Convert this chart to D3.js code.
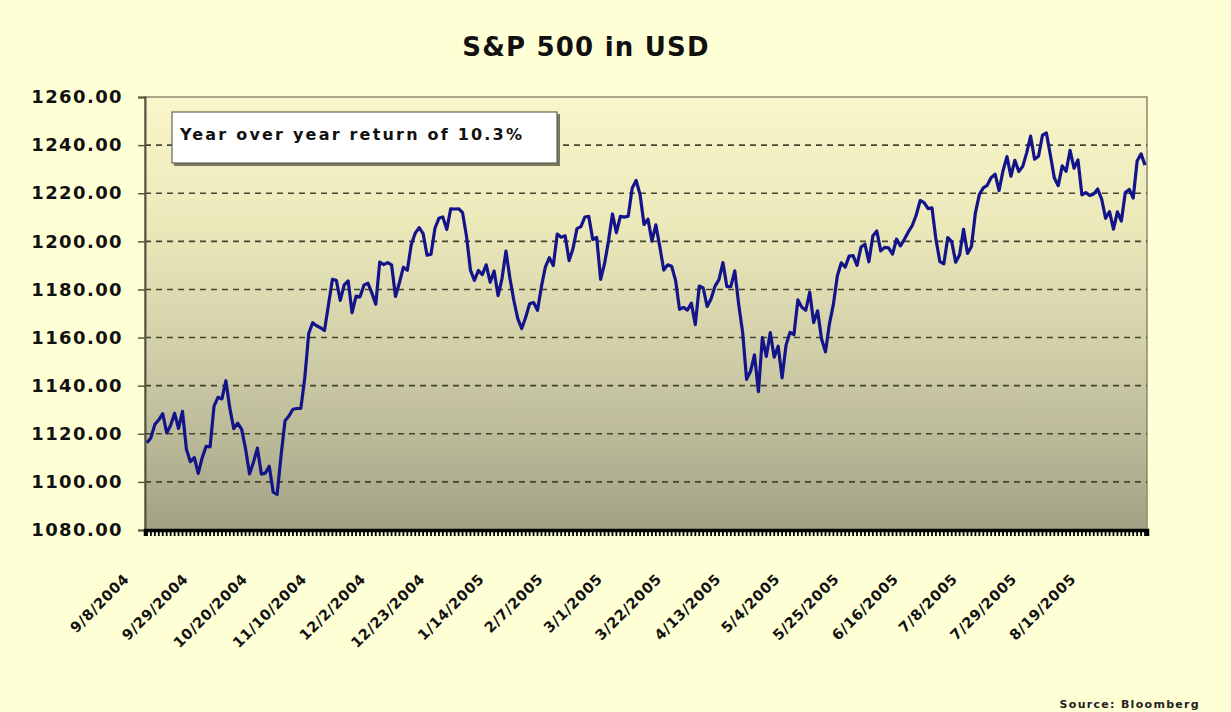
<!DOCTYPE html>
<html><head><meta charset="utf-8">
<script src="https://cdn.jsdelivr.net/npm/d3@7"></script>
<style>html,body{margin:0;padding:0;background:#FFFFD6;} svg{display:block}</style>
</head><body><svg id="c" width="1231" height="712"></svg>
<script>
const dates = [
"9/8/2004","9/9/2004","9/10/2004","9/13/2004","9/14/2004","9/15/2004","9/16/2004","9/17/2004","9/20/2004","9/21/2004",
"9/22/2004","9/23/2004","9/24/2004","9/27/2004","9/28/2004","9/29/2004","9/30/2004","10/1/2004","10/4/2004","10/5/2004",
"10/6/2004","10/7/2004","10/8/2004","10/11/2004","10/12/2004","10/13/2004","10/14/2004","10/15/2004","10/18/2004","10/19/2004",
"10/20/2004","10/21/2004","10/22/2004","10/25/2004","10/26/2004","10/27/2004","10/28/2004","10/29/2004","11/1/2004","11/2/2004",
"11/3/2004","11/4/2004","11/5/2004","11/8/2004","11/9/2004","11/10/2004","11/11/2004","11/12/2004","11/15/2004","11/16/2004",
"11/17/2004","11/18/2004","11/19/2004","11/22/2004","11/23/2004","11/24/2004","11/26/2004","11/29/2004","11/30/2004","12/1/2004",
"12/2/2004","12/3/2004","12/6/2004","12/7/2004","12/8/2004","12/9/2004","12/10/2004","12/13/2004","12/14/2004","12/15/2004",
"12/16/2004","12/17/2004","12/20/2004","12/21/2004","12/22/2004","12/23/2004","12/27/2004","12/28/2004","12/29/2004","12/30/2004",
"12/31/2004","1/3/2005","1/4/2005","1/5/2005","1/6/2005","1/7/2005","1/10/2005","1/11/2005","1/12/2005","1/13/2005",
"1/14/2005","1/18/2005","1/19/2005","1/20/2005","1/21/2005","1/24/2005","1/25/2005","1/26/2005","1/27/2005","1/28/2005",
"1/31/2005","2/1/2005","2/2/2005","2/3/2005","2/4/2005","2/7/2005","2/8/2005","2/9/2005","2/10/2005","2/11/2005",
"2/14/2005","2/15/2005","2/16/2005","2/17/2005","2/18/2005","2/22/2005","2/23/2005","2/24/2005","2/25/2005","2/28/2005",
"3/1/2005","3/2/2005","3/3/2005","3/4/2005","3/7/2005","3/8/2005","3/9/2005","3/10/2005","3/11/2005","3/14/2005",
"3/15/2005","3/16/2005","3/17/2005","3/18/2005","3/21/2005","3/22/2005","3/23/2005","3/24/2005","3/28/2005","3/29/2005",
"3/30/2005","3/31/2005","4/1/2005","4/4/2005","4/5/2005","4/6/2005","4/7/2005","4/8/2005","4/11/2005","4/12/2005",
"4/13/2005","4/14/2005","4/15/2005","4/18/2005","4/19/2005","4/20/2005","4/21/2005","4/22/2005","4/25/2005","4/26/2005",
"4/27/2005","4/28/2005","4/29/2005","5/2/2005","5/3/2005","5/4/2005","5/5/2005","5/6/2005","5/9/2005","5/10/2005",
"5/11/2005","5/12/2005","5/13/2005","5/16/2005","5/17/2005","5/18/2005","5/19/2005","5/20/2005","5/23/2005","5/24/2005",
"5/25/2005","5/26/2005","5/27/2005","5/31/2005","6/1/2005","6/2/2005","6/3/2005","6/6/2005","6/7/2005","6/8/2005",
"6/9/2005","6/10/2005","6/13/2005","6/14/2005","6/15/2005","6/16/2005","6/17/2005","6/20/2005","6/21/2005","6/22/2005",
"6/23/2005","6/24/2005","6/27/2005","6/28/2005","6/29/2005","6/30/2005","7/1/2005","7/5/2005","7/6/2005","7/7/2005",
"7/8/2005","7/11/2005","7/12/2005","7/13/2005","7/14/2005","7/15/2005","7/18/2005","7/19/2005","7/20/2005","7/21/2005",
"7/22/2005","7/25/2005","7/26/2005","7/27/2005","7/28/2005","7/29/2005","8/1/2005","8/2/2005","8/3/2005","8/4/2005",
"8/5/2005","8/8/2005","8/9/2005","8/10/2005","8/11/2005","8/12/2005","8/15/2005","8/16/2005","8/17/2005","8/18/2005",
"8/19/2005","8/22/2005","8/23/2005","8/24/2005","8/25/2005","8/26/2005","8/29/2005","8/30/2005","8/31/2005","9/1/2005",
"9/2/2005","9/6/2005","9/7/2005","9/8/2005"
];
const values = [
1116.27,1118.38,1123.92,1125.82,1128.33,1120.37,1123.50,1128.55,1122.20,1129.30,
1113.56,1108.36,1110.11,1103.52,1110.06,1114.80,1114.58,1131.50,1135.17,1134.48,
1142.05,1130.65,1122.14,1124.39,1121.84,1113.65,1103.29,1108.20,1114.02,1103.23,
1103.66,1106.49,1095.74,1094.80,1111.09,1125.40,1127.44,1130.20,1130.51,1130.56,
1143.20,1161.67,1166.17,1164.89,1164.08,1162.91,1173.48,1184.17,1183.81,1175.43,
1181.94,1183.55,1170.34,1177.24,1176.94,1181.76,1182.65,1178.57,1173.82,1191.37,
1190.33,1191.17,1190.25,1177.07,1182.81,1189.24,1188.00,1198.68,1203.38,1205.72,
1203.21,1194.20,1194.65,1205.45,1209.57,1210.13,1204.92,1213.54,1213.45,1213.55,
1211.92,1202.08,1188.05,1183.74,1187.89,1186.19,1190.25,1182.99,1187.70,1177.45,
1184.52,1195.98,1184.63,1175.41,1167.87,1163.75,1168.41,1174.07,1174.55,1171.36,
1181.27,1189.41,1193.19,1189.89,1203.03,1201.72,1202.30,1191.99,1197.01,1205.30,
1206.14,1210.12,1210.34,1200.75,1201.59,1184.16,1190.80,1200.20,1211.37,1203.60,
1210.41,1210.08,1210.47,1222.12,1225.31,1219.43,1207.01,1209.25,1200.08,1206.83,
1197.75,1188.07,1190.21,1189.65,1183.78,1171.71,1172.53,1171.42,1174.28,1165.36,
1181.41,1180.59,1172.92,1176.12,1181.39,1184.07,1191.14,1181.20,1181.21,1187.76,
1173.79,1162.05,1142.62,1145.98,1152.78,1137.50,1159.95,1152.12,1162.10,1151.83,
1156.38,1143.22,1156.85,1162.16,1161.17,1175.65,1172.63,1171.35,1178.84,1166.22,
1171.11,1159.36,1154.05,1165.69,1173.80,1185.56,1191.08,1189.28,1193.86,1194.07,
1190.01,1197.62,1198.78,1191.50,1202.22,1204.29,1196.02,1197.51,1197.26,1194.67,
1200.93,1198.11,1200.82,1203.91,1206.58,1210.96,1216.96,1216.10,1213.61,1213.88,
1200.73,1191.57,1190.69,1201.57,1199.85,1191.33,1194.44,1204.99,1194.94,1197.87,
1211.86,1219.44,1222.21,1223.29,1226.50,1227.92,1221.13,1229.35,1235.20,1227.04,
1233.68,1229.03,1231.16,1236.79,1243.72,1234.18,1235.35,1244.12,1245.04,1235.86,
1226.42,1223.13,1231.38,1229.13,1237.81,1230.39,1233.87,1219.34,1220.24,1219.02,
1219.71,1221.73,1217.59,1209.59,1212.37,1205.10,1212.28,1208.41,1220.33,1221.59,
1218.02,1233.39,1236.36,1231.67
];
const yTicks = [1080,1100,1120,1140,1160,1180,1200,1220,1240,1260];
const xTickLabels = ["9/8/2004","9/29/2004","10/20/2004","11/10/2004","12/2/2004","12/23/2004","1/14/2005","2/7/2005","3/1/2005","3/22/2005","4/13/2005","5/4/2005","5/25/2005","6/16/2005","7/8/2005","7/29/2005","8/19/2005"];
const titleText = "S&P 500 in USD";
const noteText = "Year over year return of 10.3%";
const sourceText = "Source: Bloomberg";

const W = 1231, H = 712;
const m = {left:145, right:1147, top:97, bottom:530};
const FONT = "'DejaVu Sans', Verdana, sans-serif";
const svg = d3.select("#c");
svg.append("rect").attr("width", W).attr("height", H).attr("fill", "#FFFFD6");

const defs = svg.append("defs");
const grad = defs.append("linearGradient").attr("id","pg").attr("x1",0).attr("y1",0).attr("x2",0).attr("y2",1);
[[0,"#F8F6CA"],[0.3,"#EBE8BA"],[0.6,"#D0CEA8"],[1,"#A2A185"]].forEach(s =>
  grad.append("stop").attr("offset", s[0]).attr("stop-color", s[1]));

const x = d3.scaleBand().domain(dates).range([m.left, m.right]).padding(0);
const y = d3.scaleLinear().domain([1080, 1260]).range([m.bottom, m.top]);
const cx = d => x(d) + x.bandwidth()/2;

// plot area
svg.append("rect").attr("x", m.left).attr("y", m.top)
  .attr("width", m.right - m.left).attr("height", m.bottom - m.top)
  .attr("fill", "url(#pg)").attr("stroke", "#8C8A6E").attr("stroke-width", 1.5);

// gridlines
svg.append("g").selectAll("line").data(yTicks.filter(t => t > 1080 && t < 1260)).join("line")
  .attr("x1", m.left).attr("x2", m.right)
  .attr("y1", d => y(d)).attr("y2", d => y(d))
  .attr("stroke", "#45442F").attr("stroke-width", 1.6).attr("stroke-dasharray", "6,5");

// y axis
const yAxis = svg.append("g").attr("transform", `translate(${m.left},0)`)
  .call(d3.axisLeft(y).tickValues(yTicks).tickSize(7).tickPadding(15).tickFormat(d => d.toFixed(2)));
yAxis.select(".domain").attr("stroke", "#55543C").attr("stroke-width", 2);
yAxis.selectAll(".tick line").attr("stroke", "#55543C").attr("stroke-width", 1.5);
yAxis.selectAll("text").attr("font-family", FONT).attr("font-weight", "bold")
  .attr("font-size", 18).attr("letter-spacing", 1.4).attr("fill", "#111");

// x axis (dense category ticks)
const xAxis = svg.append("g").attr("transform", `translate(0,${m.bottom})`)
  .call(d3.axisBottom(x).tickSize(6).tickFormat(""));
xAxis.select(".domain").attr("stroke", "#000").attr("stroke-width", 3.5);
xAxis.selectAll(".tick line").attr("stroke", "#000").attr("stroke-width", 1.8);

// x labels
svg.append("g").selectAll("text").data(xTickLabels).join("text")
  .attr("transform", d => `translate(${cx(d) - 17},${580}) rotate(-45)`)
  .attr("text-anchor", "end")
  .attr("font-family", FONT).attr("font-weight", "bold").attr("font-size", 14.5)
  .attr("letter-spacing", 0.6).attr("fill", "#111")
  .text(d => d);

// line
const line = d3.line().x((d, i) => cx(dates[i])).y(d => y(d));
svg.append("path").datum(values).attr("d", line)
  .attr("fill", "none").attr("stroke", "#14148A").attr("stroke-width", 3.2)
  .attr("stroke-linejoin", "round");

// annotation box
svg.append("rect").attr("x", 174).attr("y", 114).attr("width", 386).attr("height", 52)
  .attr("fill", "#7A7862");
svg.append("rect").attr("x", 172).attr("y", 112).attr("width", 385).attr("height", 51)
  .attr("fill", "#FFFFFF").attr("stroke", "#66654F").attr("stroke-width", 1.2);
svg.append("text").attr("x", 180).attr("y", 140)
  .attr("font-family", FONT).attr("font-weight", "bold").attr("font-size", 16)
  .attr("letter-spacing", 2.2).attr("fill", "#111").text(noteText);

// title
svg.append("text").attr("x", 586).attr("y", 56).attr("text-anchor", "middle")
  .attr("font-family", FONT).attr("font-weight", "bold").attr("font-size", 26)
  .attr("letter-spacing", 1.2).attr("fill", "#111").text(titleText);

// source
svg.append("text").attr("x", 1200).attr("y", 708).attr("text-anchor", "end")
  .attr("font-family", FONT).attr("font-weight", "bold").attr("font-size", 11)
  .attr("letter-spacing", 1.3).attr("fill", "#222").text(sourceText);
</script>
</body></html>
